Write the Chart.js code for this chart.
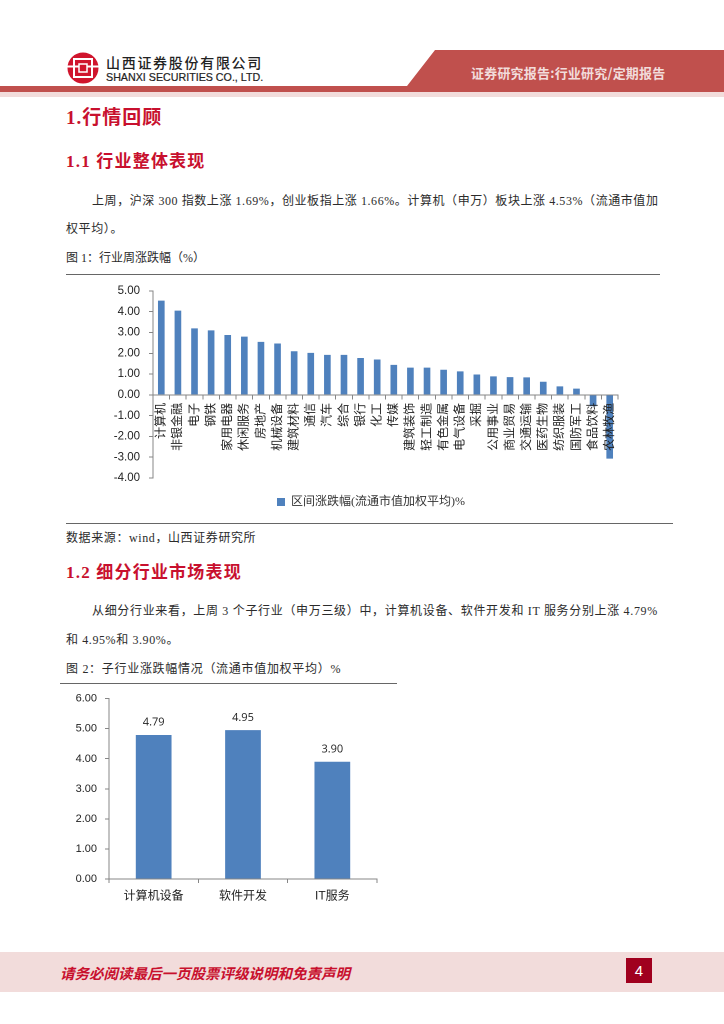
<!DOCTYPE html>
<html lang="zh-CN"><head><meta charset="utf-8">
<script src="https://cdn.jsdelivr.net/npm/chart.js@4"></script>
<style>
html,body{margin:0;padding:0;background:#fff;width:724px;height:1024px;overflow:hidden}
#page{position:relative;width:724px;height:1024px;font-family:"Liberation Serif","Noto Sans CJK SC",serif;color:#2b2b2b}
.t{position:absolute;white-space:nowrap;line-height:1;transform:translateY(-50%)}
.h{color:#c8102e;font-weight:700;font-size:17px;letter-spacing:1.2px}
.p{font-size:12px}
.r{position:absolute;height:1px;background:#666}
canvas{position:absolute}
</style></head><body><div id="page">
<svg style="position:absolute;left:0;top:0" width="724" height="100">
<polygon points="0,86 407,86 435,50 724,50 724,92 0,92" fill="#c0504d"/>
<rect x="0" y="92" width="724" height="5" fill="#f2dcdb"/>
<circle cx="83" cy="68" r="15.5" fill="#d0152d"/>
<rect x="66" y="65.5" width="34" height="2" fill="#fff"/>
<rect x="74" y="59" width="18" height="18" fill="none" stroke="#fff" stroke-width="2"/>
<rect x="79" y="64" width="8" height="8" fill="#d0152d" stroke="#fff" stroke-width="1.5"/>
</svg>
<div class="t" style="left:106px;top:62px;font:500 14px 'Noto Sans CJK SC';letter-spacing:1.7px;color:#222">山西证券股份有限公司</div>
<div class="t" style="left:106px;top:77px;font:400 10.7px 'Liberation Sans';color:#222;-webkit-text-stroke:.2px #222">SHANXI SECURITIES CO., LTD.</div>
<div class="t" style="left:471px;top:72px;font:700 13px 'Noto Sans CJK SC';letter-spacing:.2px;color:#f2dcdb">证券研究报告:行业研究/定期报告</div>

<div class="t h" style="left:66px;top:117px;font-size:19px;letter-spacing:1px">1.行情回顾</div>
<div class="t h" style="left:66px;top:161px">1.1 行业整体表现</div>
<div class="t p" style="left:92px;top:201px;letter-spacing:.57px">上周&#xFF0C;沪深 300 指数上涨 1.69%&#xFF0C;创业板指上涨 1.66%。计算机&#xFF08;申万&#xFF09;板块上涨 4.53%&#xFF08;流通市值加</div>
<div class="t p" style="left:66px;top:229px;letter-spacing:.6px">权平均&#xFF09;。</div>
<div class="t p" style="left:66px;top:258px">图 1&#xFF1A;行业周涨跌幅&#xFF08;%&#xFF09;</div>
<div class="r" style="left:66px;top:274px;width:594px"></div>
<div class="r" style="left:66px;top:523px;width:607px"></div>
<div class="t p" style="left:66px;top:538px;letter-spacing:.6px">数据来源&#xFF1A;wind&#xFF0C;山西证券研究所</div>
<div class="t h" style="left:66px;top:572px">1.2 细分行业市场表现</div>
<div class="t p" style="left:92px;top:611px;letter-spacing:.67px">从细分行业来看&#xFF0C;上周 3 个子行业&#xFF08;申万三级&#xFF09;中&#xFF0C;计算机设备、软件开发和 IT 服务分别上涨 4.79%</div>
<div class="t p" style="left:66px;top:640px;letter-spacing:.6px">和 4.95%和 3.90%。</div>
<div class="t p" style="left:66px;top:669px;letter-spacing:.7px">图 2&#xFF1A;子行业涨跌幅情况&#xFF08;流通市值加权平均&#xFF09;%</div>
<div class="r" style="left:60px;top:683px;width:337px"></div>

<canvas id="c1" style="left:100px;top:275px;width:542px;height:243px"></canvas>
<canvas id="c2" style="left:70px;top:684px;width:320px;height:221px"></canvas>

<div style="position:absolute;left:0;top:952px;width:724px;height:40px;background:#f2dcdb"></div>
<div class="t" style="left:60px;top:972px;font:italic 700 14.5px 'Noto Sans CJK SC';color:#c8102e">请务必阅读最后一页股票评级说明和免责声明</div>
<div style="position:absolute;left:626px;top:958px;width:26px;height:25px;background:#a0001e;color:#fff;font:15px/25px 'Liberation Sans';text-align:center">4</div>
</div>
<script>
const industryLabels = ["计算机","非银金融","电子","钢铁","家用电器","休闲服务","房地产","机械设备","建筑材料","通信","汽车","综合","银行","化工","传媒","建筑装饰","轻工制造","有色金属","电气设备","采掘","公用事业","商业贸易","交通运输","医药生物","纺织服装","国防军工","食品饮料","农林牧渔"];
const industryValues = [4.53,4.05,3.20,3.10,2.88,2.80,2.55,2.47,2.10,2.02,1.92,1.92,1.77,1.70,1.44,1.31,1.31,1.21,1.13,0.98,0.89,0.85,0.84,0.63,0.41,0.30,-0.55,-3.07];
const industrySeriesName = "区间涨跌幅(流通市值加权平均)%";
const subLabels = ["计算机设备","软件开发","IT服务"];
const subValues = [4.79,4.95,3.90];

const BLUE = "#4f81bd", AXIS = "#868686", CJK = "'Liberation Sans','Noto Sans CJK SC',sans-serif";
Chart.defaults.animation = false;
Chart.defaults.responsive = false;
Chart.defaults.devicePixelRatio = 2;

function size(id,w,h){const c=document.getElementById(id);c.width=w;c.height=h;return c;}

const legendShift={id:"legendShift",afterLayout(chart){chart.legend.left+=12;chart.legend.right+=12;}};
new Chart(size("c1",542,243),{
  type:"bar",
  data:{labels:industryLabels,datasets:[{label:industrySeriesName,data:industryValues,backgroundColor:BLUE,barPercentage:.4,categoryPercentage:1}]},
  plugins:[legendShift],
  options:{
    layout:{padding:{top:10,right:24,left:0,bottom:0}},
    plugins:{
      tooltip:{enabled:false},
      legend:{position:"bottom",labels:{boxWidth:8,boxHeight:8,padding:18,color:"#333",font:{size:12,family:"'Liberation Serif','Noto Sans CJK SC',serif"}}}
    },
    scales:{
      x:{position:{y:0},grid:{drawOnChartArea:false,color:AXIS,tickLength:4,offset:true},border:{color:AXIS},
         ticks:{z:1,autoSkip:false,minRotation:90,maxRotation:90,padding:4,color:"#222",font:{size:12,family:CJK}}},
      y:{min:-4,max:5,afterFit:s=>{s.width=53},grid:{drawOnChartArea:false,color:AXIS,tickLength:4},border:{color:AXIS},
         ticks:{stepSize:1,padding:9,color:"#222",callback:v=>v.toFixed(2),font:{size:11.5,family:CJK}}}
    }
  }
});

const valueLabels={id:"valueLabels",afterDatasetsDraw(chart){
  const ctx=chart.ctx;ctx.save();ctx.font="11px 'Open Sans','Liberation Sans',sans-serif";ctx.fillStyle="#222";ctx.textAlign="center";ctx.textBaseline="bottom";
  chart.getDatasetMeta(0).data.forEach((b,i)=>ctx.fillText(subValues[i].toFixed(2),b.x,b.y-7));
  ctx.restore();
}};
new Chart(size("c2",320,221),{
  type:"bar",
  data:{labels:subLabels,datasets:[{data:subValues,backgroundColor:BLUE,barPercentage:.4,categoryPercentage:1}]},
  plugins:[valueLabels],
  options:{
    layout:{padding:{top:8,right:13,left:0,bottom:0}},
    plugins:{legend:{display:false},tooltip:{enabled:false}},
    scales:{
      x:{afterFit:s=>{s.height=26},grid:{drawOnChartArea:false,color:AXIS,tickLength:4,offset:true},border:{color:AXIS},
         ticks:{padding:6,maxRotation:0,color:"#222",font:{size:12,family:CJK}}},
      y:{min:0,max:6,afterFit:s=>{s.width=39},grid:{drawOnChartArea:false,color:AXIS,tickLength:4},border:{color:AXIS},
         ticks:{stepSize:1,padding:8,color:"#222",callback:v=>v.toFixed(2),font:{size:11,family:CJK}}}
    }
  }
});
</script></body></html>
